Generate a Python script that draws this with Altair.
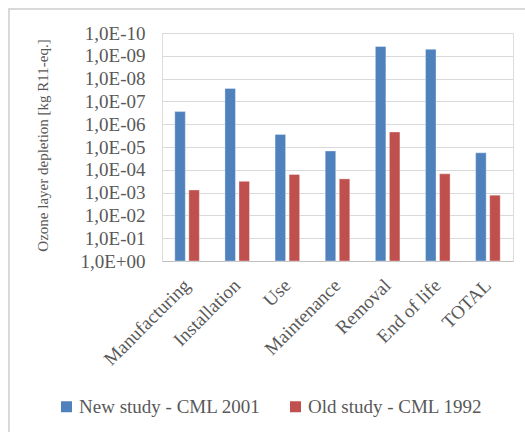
import altair as alt
import pandas as pd

# Ozone layer depletion per life-cycle stage, two impact methods
stages = ["Manufacturing", "Installation", "Use", "Maintenance", "Removal", "End of life", "TOTAL"]
new_study = [2.8e-7, 2.7e-8, 2.8e-6, 1.5e-5, 3.9e-10, 5.2e-10, 1.8e-5]
old_study = [7.7e-4, 3.2e-4, 1.6e-4, 2.5e-4, 2.2e-6, 1.5e-4, 1.3e-3]
series = ["New study - CML 2001", "Old study - CML 1992"]
colors = ["#4F81BD", "#C0504D"]
y_ticks = [1e-10, 1e-9, 1e-8, 1e-7, 1e-6, 1e-5, 1e-4, 1e-3, 1e-2, 1e-1, 1.0]

rows = []
for s, vals in zip(series, [new_study, old_study]):
    for st, v in zip(stages, vals):
        rows.append({"stage": st, "series": s, "value": v, "base": 1.0})
df = pd.DataFrame(rows)

FONT = "Liberation Serif"
GRAY = "#595959"
W, H = 351, 228
LEFT, TOP = 162, 33

exp_expr = "round(log(datum.value)/LN10)"
label_expr = (
    "'1,0E' + (" + exp_expr + " >= 0 ? '+' : '-') + "
    "(abs(" + exp_expr + ") < 10 ? '0' : '') + abs(" + exp_expr + ")"
)

bars = alt.Chart(df).mark_bar(
    stroke="white", strokeOpacity=0.35, strokeWidth=1
).encode(
    x=alt.X(
        "stage:N",
        sort=stages,
        scale=alt.Scale(paddingInner=0.51, paddingOuter=0.255),
        axis=alt.Axis(
            title=None, labelAngle=-45, labelAlign="right", labelBaseline="middle",
            labelFont=FONT, labelFontSize=19, labelColor=GRAY, labelPadding=21,
            ticks=False, domainColor="#bfbfbf", domainWidth=1, grid=False,
        ),
    ),
    xOffset=alt.XOffset("series:N", sort=series,
                        scale=alt.Scale(paddingInner=0.25, paddingOuter=0)),
    y=alt.Y(
        "value:Q",
        scale=alt.Scale(type="log", domain=[1e-10, 1.0], reverse=True, nice=False),
        axis=alt.Axis(
            title="Ozone layer depletion [kg R11-eq.]", values=y_ticks,
            labelExpr=label_expr, labelFont=FONT, labelFontSize=19, labelColor=GRAY,
            labelPadding=17, ticks=False, domain=False,
            gridColor="#d9d9d9", gridWidth=1,
            titleFont=FONT, titleFontSize=15, titleFontWeight="normal", titleColor=GRAY,
            titleAngle=-90, titleX=-120, titleY=H / 2 - 2, titleAlign="center",
            titleBaseline="middle",
        ),
    ),
    y2="base:Q",
    color=alt.Color(
        "series:N", sort=series,
        scale=alt.Scale(domain=series, range=colors),
        legend=alt.Legend(
            title=None, orient="none", direction="horizontal",
            legendX=57 - LEFT, legendY=397 - TOP, padding=0,
            symbolType="square", symbolSize=121, symbolStrokeWidth=0,
            labelFont=FONT, labelFontSize=19, labelColor=GRAY, labelLimit=0,
            columnPadding=25, labelOffset=3,
        ),
    ),
)

# light outer frame around the chart area
frame = alt.Chart(pd.DataFrame({"k": [0]})).mark_rect(
    fill=None, stroke="#d9d9d9", strokeWidth=2, clip=False
).encode(
    x=alt.value(9 - LEFT), x2=alt.value(700), y=alt.value(9 - TOP), y2=alt.value(600)
)

chart = alt.layer(frame, bars).properties(
    width=W, height=H,
    autosize=alt.AutoSizeParams(type="none"),
    padding={"left": LEFT, "top": TOP, "right": 525 - LEFT - W, "bottom": 432 - TOP - H},
).configure_view(stroke=None).configure_legend(
    labelFont=FONT
).configure(background="white")

chart.save("out.html", embed_options={"renderer": "svg", "actions": False})
